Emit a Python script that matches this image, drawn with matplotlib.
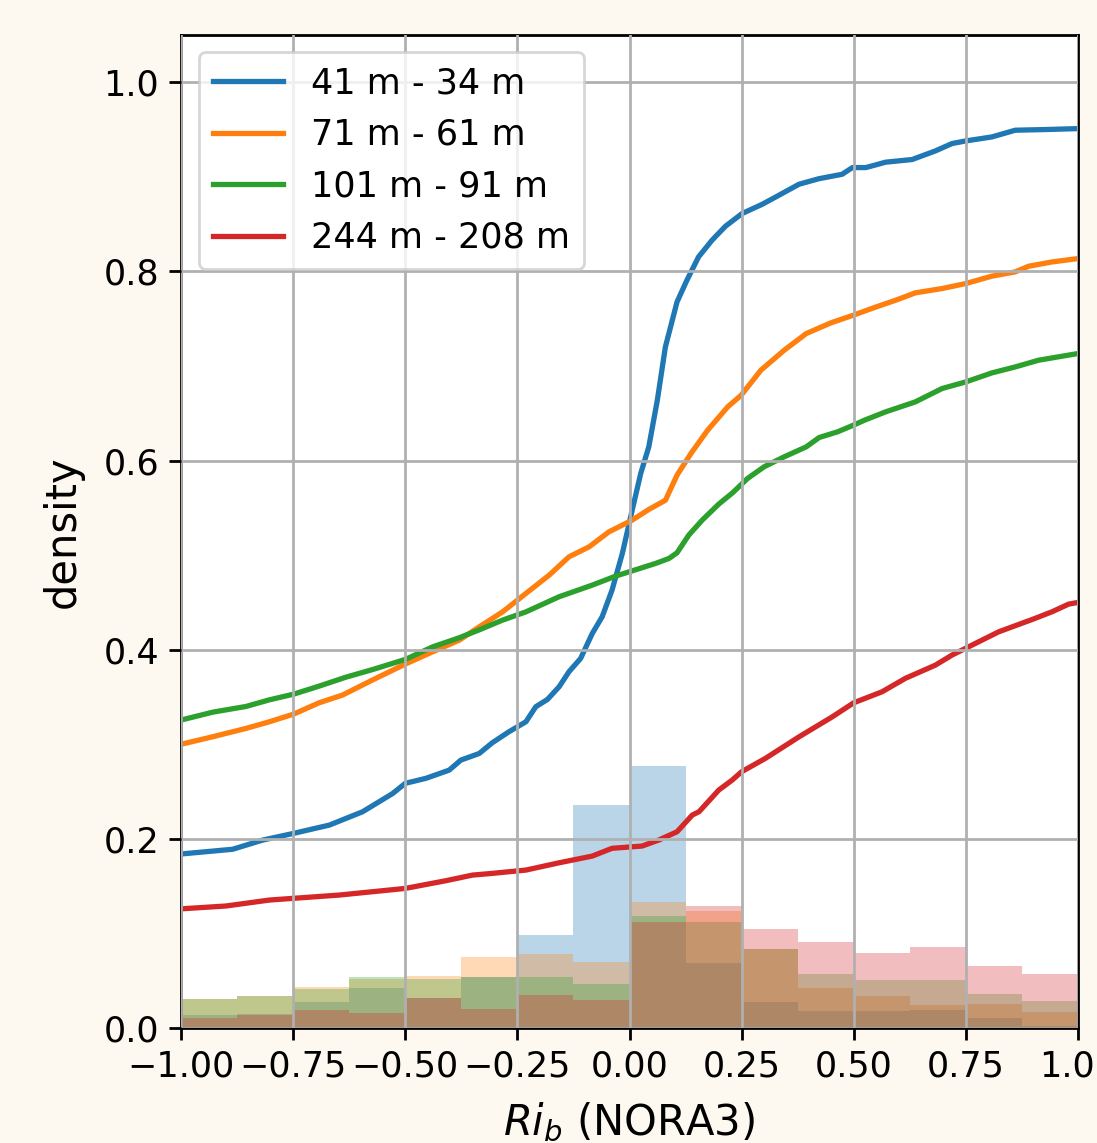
import numpy as np
import matplotlib
matplotlib.use("Agg")
import matplotlib.pyplot as plt

plt.rcParams['font.size'] = 12.6
plt.rcParams['axes.linewidth'] = 1.0
plt.rcParams['xtick.major.width'] = 1.0
plt.rcParams['ytick.major.width'] = 1.0
plt.rcParams['xtick.major.size'] = 4.4
plt.rcParams['ytick.major.size'] = 4.4

# histogram bins (width 0.125 from -1 to 1) and bar heights
bin_edges = np.linspace(-1.0, 1.0, 17)
hist_41 = [0.0138, 0.0145, 0.0275, 0.042, 0.032, 0.054, 0.098, 0.236,
           0.277, 0.069, 0.028, 0.018, 0.018, 0.019, 0.011, 0.002]
hist_71 = [0.031, 0.034, 0.043, 0.0515, 0.0553, 0.0754, 0.078, 0.070,
           0.1335, 0.1237, 0.0835, 0.0426, 0.0338, 0.0243, 0.025, 0.0172]
hist_101 = [0.031, 0.034, 0.041, 0.0536, 0.0518, 0.054, 0.0536, 0.047,
            0.118, 0.1117, 0.0835, 0.057, 0.0507, 0.0507, 0.0356, 0.0286]
hist_244 = [0.011, 0.0137, 0.019, 0.016, 0.032, 0.020, 0.035, 0.0296,
            0.112, 0.129, 0.105, 0.0906, 0.079, 0.0853, 0.0655, 0.057]

# cumulative curves
x_41 = [-1.0, -0.885, -0.818, -0.749, -0.669, -0.595, -0.528, -0.5, -0.454, -0.402,
        -0.376, -0.335, -0.306, -0.269, -0.231, -0.209, -0.183, -0.157, -0.135, -0.109,
        -0.083, -0.061, -0.039, -0.016, 0.006, 0.025, 0.043, 0.062, 0.080, 0.106,
        0.128, 0.154, 0.184, 0.214, 0.251, 0.296, 0.333, 0.378, 0.422, 0.474,
        0.497, 0.527, 0.571, 0.630, 0.682, 0.719, 0.750, 0.808, 0.860, 0.927, 1.0]
y_41 = [0.184, 0.189, 0.1987, 0.2058, 0.2146, 0.2287, 0.248, 0.2587, 0.264, 0.2727,
        0.2833, 0.2903, 0.3016, 0.3132, 0.3238, 0.3397, 0.3474, 0.3608, 0.3767, 0.3908,
        0.4172, 0.4348, 0.463, 0.5018, 0.5476, 0.5864, 0.6145, 0.6638, 0.7202, 0.7678,
        0.7907, 0.8154, 0.833, 0.8478, 0.8612, 0.871, 0.8805, 0.8922, 0.898, 0.9027,
        0.9098, 0.9098, 0.9155, 0.9183, 0.9274, 0.9352, 0.938, 0.9422, 0.9493, 0.950, 0.951]

x_71 = [-1.0, -0.929, -0.855, -0.803, -0.749, -0.692, -0.640, -0.573, -0.5, -0.439,
        -0.380, -0.335, -0.283, -0.231, -0.179, -0.135, -0.090, -0.046, 0.006, 0.043,
        0.080, 0.106, 0.137, 0.174, 0.219, 0.249, 0.293, 0.345, 0.394, 0.449,
        0.499, 0.546, 0.598, 0.637, 0.697, 0.750, 0.808, 0.860, 0.890, 0.942, 1.0]
y_71 = [0.300, 0.308, 0.3168, 0.3238, 0.3319, 0.3439, 0.352, 0.368, 0.3848, 0.3978,
        0.410, 0.4242, 0.440, 0.4595, 0.4789, 0.4982, 0.5088, 0.5246, 0.537, 0.5483,
        0.558, 0.5846, 0.6075, 0.632, 0.6568, 0.6691, 0.6956, 0.7167, 0.7343, 0.7456,
        0.7537, 0.7618, 0.7703, 0.7773, 0.7819, 0.7872, 0.795, 0.7995, 0.8055, 0.810, 0.8136]

x_101 = [-1.0, -0.929, -0.855, -0.803, -0.749, -0.692, -0.632, -0.573, -0.5, -0.439,
         -0.380, -0.335, -0.283, -0.231, -0.157, -0.083, -0.031, 0.006, 0.058, 0.088,
         0.106, 0.132, 0.162, 0.199, 0.230, 0.263, 0.300, 0.345, 0.394, 0.423,
         0.464, 0.499, 0.524, 0.571, 0.637, 0.697, 0.750, 0.808, 0.860, 0.912, 1.0]
y_101 = [0.3256, 0.334, 0.340, 0.347, 0.353, 0.3615, 0.371, 0.379, 0.3897, 0.403,
         0.4126, 0.421, 0.4313, 0.440, 0.456, 0.4683, 0.4778, 0.4834, 0.4912, 0.4965,
         0.5025, 0.5211, 0.537, 0.554, 0.566, 0.581, 0.5934, 0.604, 0.6145, 0.6244,
         0.6304, 0.6374, 0.6427, 0.6515, 0.662, 0.6762, 0.6832, 0.6927, 0.699, 0.7061, 0.7132]

x_244 = [-1.0, -0.9, -0.803, -0.647, -0.5, -0.41, -0.35, -0.306, -0.231, -0.157,
         -0.083, -0.039, 0.028, 0.065, 0.106, 0.140, 0.155, 0.199, 0.229, 0.250,
         0.303, 0.378, 0.452, 0.500, 0.563, 0.615, 0.682, 0.719, 0.749, 0.823,
         0.898, 0.942, 0.979, 1.0]
y_244 = [0.126, 0.129, 0.1353, 0.1406, 0.1476, 0.1557, 0.1617, 0.1635, 0.167, 0.1747,
         0.1818, 0.190, 0.1924, 0.1987, 0.2075, 0.2252, 0.2287, 0.2516, 0.2622, 0.271,
         0.2851, 0.3079, 0.329, 0.3439, 0.3555, 0.3697, 0.3837, 0.3943, 0.4014, 0.4189,
         0.432, 0.4401, 0.4482, 0.450]

labels = ['41 m - 34 m', '71 m - 61 m', '101 m - 91 m', '244 m - 208 m']
colors = ['C0', 'C1', 'C2', 'C3']

fig = plt.figure(figsize=(5.485, 5.715), dpi=200, facecolor='#fdf8f0')
ax = fig.add_axes([0.165, 0.1006, 0.8177, 0.8688])

width = bin_edges[1] - bin_edges[0]
for h, c in zip([hist_41, hist_71, hist_101, hist_244], colors):
    ax.bar(bin_edges[:-1], h, width=width, align='edge', color=c, alpha=0.3)

for xs, ys, c, lab in zip([x_41, x_71, x_101, x_244], [y_41, y_71, y_101, y_244], colors, labels):
    ax.plot(xs, ys, color=c, label=lab, lw=1.9)

ax.set_xlim(-1, 1)
ax.set_ylim(0, 1.05)
ax.grid(True, lw=1.0)
ax.set_axisbelow(False)
ax.set_xlabel('$Ri_b$ (NORA3)', fontsize=15, labelpad=6)
ax.set_ylabel('density', fontsize=15, labelpad=7)
ax.legend(loc='upper left', fontsize=12.6)

fig.savefig('out.png', dpi=200, facecolor=fig.get_facecolor())
